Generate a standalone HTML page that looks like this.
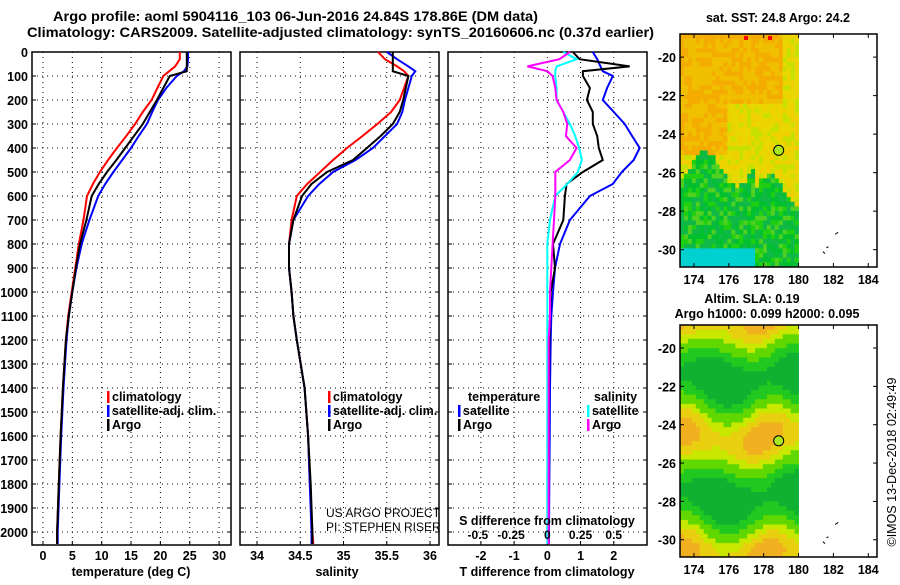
<!DOCTYPE html>
<html><head><meta charset="utf-8"><style>
body{margin:0;background:#fff}
svg{font-family:"Liberation Sans",sans-serif;font-weight:bold}
</style></head><body>
<svg id="c" width="900" height="580" viewBox="0 0 900 580" xmlns="http://www.w3.org/2000/svg">
<rect width="900" height="580" fill="#fff"/>
<text x="53" y="21" font-size="13.5" textLength="485" lengthAdjust="spacingAndGlyphs">Argo profile: aoml 5904116_103 06-Jun-2016 24.84S 178.86E (DM data)</text>
<text x="27" y="37" font-size="13.5" textLength="627" lengthAdjust="spacingAndGlyphs">Climatology: CARS2009. Satellite-adjusted climatology: synTS_20160606.nc (0.37d earlier)</text>
</svg>
<script>
// ---- data ----
const depths=[0,30,60,80,100,150,200,250,300,350,400,450,500,550,600,700,800,900,1000,1100,1200,1400,1600,1800,2000,2050];
const tempClim=[23.3,23.3,22.5,21.5,20.5,19.5,18.5,17,15.7,14.2,12.6,11.1,9.7,8.5,7.5,6.9,6.1,5.5,4.9,4.3,3.9,3.4,3.0,2.7,2.4,2.4];
const tempSat=[24.7,24.7,24.6,24.0,22.8,21.0,19.6,18.6,17.7,16.3,15.0,13.5,12.0,10.6,9.4,7.9,6.6,5.7,5.0,4.4,4.0,3.5,3.1,2.8,2.5,2.5];
const tempArgo=[24.5,24.5,24.5,24.5,21.6,20.5,19.4,18.2,17.0,15.5,14.0,12.5,10.9,9.5,8.3,7.4,6.3,5.6,5.0,4.4,3.9,3.4,3.0,2.7,2.4,2.4];
const salClim=[35.40,35.48,35.62,35.70,35.75,35.70,35.65,35.55,35.39,35.22,35.04,34.88,34.73,34.58,34.46,34.40,34.37,34.37,34.40,34.42,34.46,34.55,34.59,34.61,34.64,34.65];
const salSat=[35.50,35.62,35.75,35.83,35.79,35.75,35.71,35.68,35.62,35.48,35.34,35.14,34.88,34.72,34.59,34.42,34.37,34.37,34.40,34.42,34.46,34.55,34.59,34.61,34.63,34.63];
const salArgo=[35.57,35.57,35.57,35.57,35.75,35.72,35.69,35.65,35.57,35.43,35.27,35.11,34.81,34.63,34.52,34.42,34.37,34.37,34.40,34.42,34.46,34.55,34.59,34.62,34.64,34.64];
const dTsat=[1.37,1.5,1.6,1.67,1.97,1.8,1.67,2.0,2.33,2.55,2.78,2.6,2.24,1.97,1.28,0.68,0.38,0.23,0.17,0.12,0.1,0.08,0.07,0.06,0.05,0.05];
const dTargo=[0.77,0.97,2.48,1.07,1.07,1.28,1.19,1.37,1.37,1.5,1.55,1.67,1.07,0.58,0.53,0.48,0.17,0.23,0.1,0.08,0.06,0.05,0.04,0.04,0.03,0.03];
const dSsat=[0.12,0.22,0.07,0.06,0.06,0.07,0.07,0.12,0.17,0.21,0.24,0.26,0.23,0.15,0.06,0.02,0,0,0,0,0,0,0,0,0,0];
const dSargo=[0.17,0.09,-0.15,0,0.04,0.06,0.07,0.12,0.15,0.14,0.22,0.17,0.06,0.06,0.06,0.05,0.04,0.03,0.02,0.02,0.01,0.01,0.01,0.01,0.01,0.01];
const depthTicks=[0,100,200,300,400,500,600,700,800,900,1000,1100,1200,1300,1400,1500,1600,1700,1800,1900,2000];
const tTicks=[0,5,10,15,20,25,30];
const sTicks=[34,34.5,35,35.5,36];
const dtTicks=[-2,-1,0,1,2];
const dsTicks=[-0.5,-0.25,0,0.25,0.5];
const latTicks=[-20,-22,-24,-26,-28,-30];
const lonTicks=[174,176,178,180,182,184];
// ---- helpers ----
const svg=document.getElementById('c');const NS='http://www.w3.org/2000/svg';
function mk(t,a,p){const e=document.createElementNS(NS,t);for(const k in a)e.setAttribute(k,a[k]);(p||svg).appendChild(e);return e;}
function txt(x,y,s,sz,anchor,name,extra){const e=mk('text',Object.assign({x:x,y:y,'font-size':sz,'text-anchor':anchor||'middle'},extra||{}));e.textContent=s;


return e;}
const yD=d=>52+d*0.24;
const PT={x0:32,x1:231,v0:-1.87,v1:32.03};
const PS={x0:240,x1:439,v0:33.803,v1:36.104};
const PD={x0:448,x1:647,v0:-2.99,v1:3.0};
function sx(p,v){return p.x0+(v-p.v0)/(p.v1-p.v0)*(p.x1-p.x0);}
function panel(p,name,xt,fmt,showY){
 const g=mk('g',{});
 depthTicks.forEach(d=>{mk('line',{x1:p.x0,x2:p.x1,y1:yD(d),y2:yD(d),stroke:'#000','stroke-dasharray':'1,4'},g);
  mk('line',{x1:p.x0,x2:p.x0+4,y1:yD(d),y2:yD(d),stroke:'#000'},g);mk('line',{x1:p.x1-4,x2:p.x1,y1:yD(d),y2:yD(d),stroke:'#000'},g);
  if(showY)txt(28,yD(d)+5,String(d),12.5,'end','depth-tick-label');});
 xt.forEach(v=>{const x=sx(p,v);mk('line',{x1:x,x2:x,y1:52,y2:545,stroke:'#000','stroke-dasharray':'1,4'},g);
  mk('line',{x1:x,x2:x,y1:541,y2:545,stroke:'#000'},g);
  txt(x,560,fmt(v),12.5,'middle','x-tick-label');});
 mk('rect',{x:p.x0,y:52,width:p.x1-p.x0,height:493,fill:'none',stroke:'#000','stroke-width':1.5},g);
 return g;}
function line(p,arr,col,name,scale){const pts=arr.map((v,i)=>sx(p,v*(scale||1)).toFixed(1)+','+yD(depths[i]).toFixed(1)).join(' ');
 const e=mk('polyline',{points:pts,fill:'none',stroke:col,'stroke-width':2});
 
 }
function legend(x,y,col,label){mk('rect',{x:x,y:y-10,width:2.5,height:12,fill:col});txt(x+5,y,label,12.5,'start','legend-entry');}
panel(PT,'temperature-panel',tTicks,v=>String(v),true);
line(PT,tempClim,'#f00','temp-climatology-line');line(PT,tempSat,'#00f','temp-satellite-line');line(PT,tempArgo,'#000','temp-argo-line');
txt(131,576,'temperature (deg C)',12.5,'middle','temperature-axis-title');
legend(107,401,'#f00','climatology');legend(107,415,'#00f','satellite-adj. clim.');legend(107,429,'#000','Argo');
panel(PS,'salinity-panel',sTicks,v=>String(v),false);
line(PS,salClim,'#f00','sal-climatology-line');line(PS,salSat,'#00f','sal-satellite-line');line(PS,salArgo,'#000','sal-argo-line');
txt(337,576,'salinity',12.5,'middle','salinity-axis-title');
legend(328,401,'#f00','climatology');legend(328,415,'#00f','satellite-adj. clim.');legend(328,429,'#000','Argo');
txt(326,517,'US ARGO PROJECT',12,'start','project-credit',{'font-weight':'normal'});
txt(326,531,'PI: STEPHEN RISER',12,'start','pi-credit',{'font-weight':'normal'});
panel(PD,'difference-panel',dtTicks,v=>String(v),false);
line(PD,dTsat,'#00f','t-diff-satellite-line');line(PD,dTargo,'#000','t-diff-argo-line');
line(PD,dSsat,'#0ff','s-diff-satellite-line',4);line(PD,dSargo,'#f0f','s-diff-argo-line',4);
txt(547,576,'T difference from climatology',12.5,'middle','t-diff-axis-title');
txt(547,525,'S difference from climatology',12.5,'middle','s-diff-axis-title');
dsTicks.forEach(v=>txt(sx(PD,v*4)+(v<0?-3:0),539,String(v),12,'middle','s-diff-tick-label'));
txt(468,401,'temperature',12.5,'start','legend-title-temperature');txt(594,401,'salinity',12.5,'start','legend-title-salinity');
legend(458,415,'#00f','satellite');legend(458,429,'#000','Argo');legend(587,415,'#0ff','satellite');legend(587,429,'#f0f','Argo');
// ---- maps ----
function map(y0,y1,name,colfn){
 const M={x0:680,x1:877,lon0:173.2,lon1:184.5,y0:y0,y1:y1,la0:-18.8,la1:-30.9};
 const mx=l=>M.x0+(l-M.lon0)/(M.lon1-M.lon0)*(M.x1-M.x0);const my=l=>M.y0+(l-M.la0)/(M.la1-M.la0)*(M.y1-M.y0);
 const g=mk('g',{});
 const cw=(mx(180)-M.x0)/30,ch=(M.y1-M.y0)/50;
 for(let i=0;i<30;i++)for(let j=0;j<50;j++){const lon=173.2+(i+0.5)*6.8/30,lat=-18.8-(j+0.5)*12.1/50;
  mk('rect',{x:(M.x0+i*cw).toFixed(2),y:(M.y0+j*ch).toFixed(2),width:(cw+0.4).toFixed(2),height:(ch+0.4).toFixed(2),fill:colfn(lon,lat,i,j)},g);}
 latTicks.forEach(l=>{const y=my(l);mk('line',{x1:M.x0,x2:M.x0+4,y1:y,y2:y,stroke:'#000'},g);mk('line',{x1:M.x1-4,x2:M.x1,y1:y,y2:y,stroke:'#000'},g);
  txt(M.x0-4,y+5,String(l),12.5,'end','lat-tick-label');});
 lonTicks.forEach(l=>{const x=mx(l);mk('line',{x1:x,x2:x,y1:M.y0,y2:M.y0+4,stroke:'#000'},g);mk('line',{x1:x,x2:x,y1:M.y1-4,y2:M.y1,stroke:'#000'},g);
  txt(x,M.y1+17,String(l),12.5,'middle','lon-tick-label');});
 mk('rect',{x:M.x0,y:M.y0,width:M.x1-M.x0,height:M.y1-M.y0,fill:'none',stroke:'#000','stroke-width':1.5},g);
 mk('circle',{cx:mx(178.86),cy:my(-24.84),r:5,fill:'#a8e820',stroke:'#000'},g);
 mk('path',{d:`M${mx(182.1)} ${my(-29.2)}l3 -2M${mx(181.6)} ${my(-29.9)}l2 -1M${mx(181.4)} ${my(-30.1)}l2 2`,stroke:'#000',fill:'none'},g);
 return g;}
function h(i,j){return ((i*73856093)^(j*19349663))%97/97;}
map(34,267,'sst-map',(lon,lat,i,j)=>{const r=h(i,j);const b=-25.8+0.9*Math.sin(lon*1.7)+ (lon>177.5?-1.2:0);
 if(lat<-29.9&&lon<177.5)return '#00d0d0';
 if(lat<b){return r<0.3?'#00c030':r<0.6?'#10b848':r<0.8?'#20d010':'#50d020';}
 const o=(lat>-22.5&&lon<179)||(lat>-25&&lon<176)?1:0;
 if(o)return r<0.5?'#f5ac00':'#f0c000';
 return r<0.4?'#e8d800':r<0.7?'#f0d000':'#c8e000';});
map(325,557,'sla-map',(lon,lat)=>{const ph=(lat+24.7+0.35*Math.sin((lon-175)*1.1))*2*Math.PI/6.2;
 const v=Math.cos(ph)+0.3*Math.cos((lon-178)*1.3)-0.1;
 return v>0.9?'#f0b020':v>0.55?'#e8d010':v>0.2?'#c8e800':v>-0.3?'#60d800':v>-0.75?'#20c820':'#10b030';});
mk('rect',{x:744,y:36,width:4,height:4,fill:'#f00'});mk('rect',{x:768,y:36,width:4,height:4,fill:'#f00'});
txt(778,22,'sat. SST: 24.8 Argo: 24.2',12.5,'middle','sst-map-title');
txt(752,303,'Altim. SLA: 0.19',12.5,'middle','sla-map-title');
txt(767,318,'Argo h1000: 0.099 h2000: 0.095',12.5,'middle','argo-height-title');
txt(0,0,'©IMOS 13-Dec-2018 02:49:49',12.5,'middle','copyright-stamp',{'font-weight':'normal',transform:'translate(896,462) rotate(-90)'});
</script>
</body></html>
